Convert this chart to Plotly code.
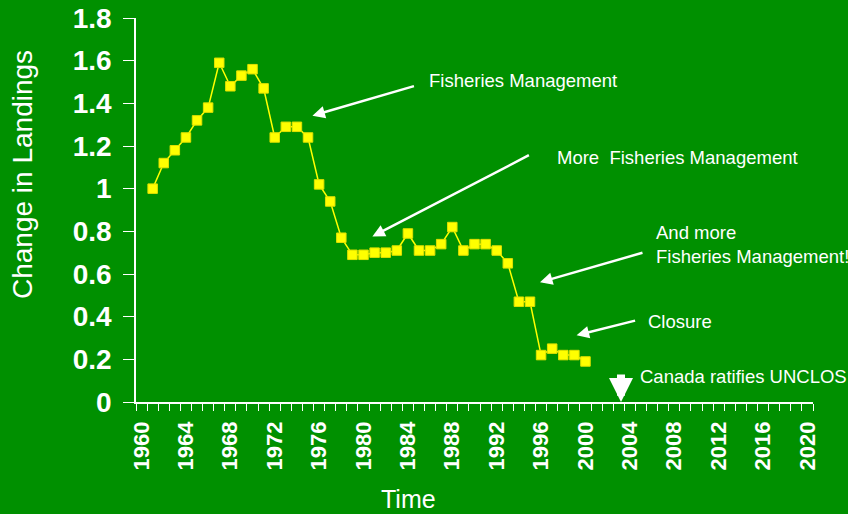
import plotly.graph_objects as go

years = list(range(1961, 2001))
landings = [
    1.00, 1.12, 1.18, 1.24, 1.32, 1.38, 1.59, 1.48, 1.53, 1.56,
    1.47, 1.24, 1.29, 1.29, 1.24, 1.02, 0.94, 0.77, 0.69, 0.69,
    0.70, 0.70, 0.71, 0.79, 0.71, 0.71, 0.74, 0.82, 0.71, 0.74,
    0.74, 0.71, 0.65, 0.47, 0.47, 0.22, 0.25, 0.22, 0.22, 0.19,
]
tick_years = list(range(1960, 2021, 4))

BG = "#009000"
FONT = "Arial, Liberation Sans, sans-serif"
W, H = 848, 514
L, R, T, B = 136, 35, 18, 112
pw, ph = W - L - R, H - T - B


def px_x(x):
    return (x - L) / pw


def px_y(y):
    return (H - B - y) / ph


fig = go.Figure()
fig.add_trace(go.Scatter(
    x=years, y=landings, mode="lines+markers",
    line=dict(color="#FFFF00", width=1.5),
    marker=dict(symbol="square", size=9.5, color="#FFFF00", line=dict(color="#E0E000", width=1)),
    showlegend=False,
))

# arrows: (head x, head y, tail dx, tail dy in px)
arrows = [
    (1975.4, 1.342, 103, -30),
    (1980.8, 0.776, 158, -82),
    (1995.9, 0.561, 104, -30),
    (1999.2, 0.313, 60, -15),
]
for hx, hy, dx, dy in arrows:
    fig.add_annotation(x=hx, y=hy, ax=dx, ay=dy, text="", showarrow=True,
                       arrowhead=2, arrowsize=1, arrowwidth=2.5, arrowcolor="white")

fig.add_annotation(x=2003.2, y=0, ax=0, ay=-29, text="", showarrow=True,
                   arrowhead=2, arrowsize=0.6, arrowwidth=8, arrowcolor="white")

labels = [
    (427, 80, "Fisheries Management"),
    (555, 157, "More  Fisheries Management"),
    (654, 244, "And more<br>Fisheries Management!"),
    (646, 321, "Closure"),
    (638, 376, "Canada ratifies UNCLOS"),
]
for px_, py_, txt in labels:
    fig.add_annotation(x=px_x(px_), y=px_y(py_), xref="paper", yref="paper",
                       text=txt, showarrow=False, xanchor="left", yanchor="middle",
                       align="left", font=dict(size=18.5, color="white", family=FONT))

# axis titles placed as in the original slide
fig.add_annotation(x=px_x(22), y=px_y(175), xref="paper", yref="paper", text="Change in Landings",
                   textangle=-90, showarrow=False, xanchor="center", yanchor="middle",
                   font=dict(size=28, color="white", family=FONT))
fig.add_annotation(x=px_x(408), y=px_y(499), xref="paper", yref="paper", text="Time",
                   showarrow=False, xanchor="center", yanchor="middle",
                   font=dict(size=25, color="white", family=FONT))

fig.update_layout(
    width=W, height=H,
    paper_bgcolor=BG, plot_bgcolor=BG,
    margin=dict(l=L, r=R, t=T, b=B),
    font=dict(family=FONT, color="white"),
    xaxis=dict(
        range=[1959.5, 2020.5], tickvals=tick_years, ticktext=[str(y) for y in tick_years],
        tickangle=-90, ticks="", showgrid=False, zeroline=False, ticklabelstandoff=9,
        showline=True, linecolor="white", linewidth=1.5, automargin=False,
        tickfont=dict(size=22, family=FONT, color="white", weight="bold"),
        minor=dict(tick0=1959.5, dtick=1, ticks="outside", ticklen=7, tickcolor="white", tickwidth=1.2, showgrid=False),
    ),
    yaxis=dict(
        range=[0, 1.8], dtick=0.2, ticks="outside", ticklen=11, tickcolor="white", tickwidth=1.2,
        showgrid=False, zeroline=False, showline=True, linecolor="white", linewidth=1.5,
        ticklabelstandoff=6, automargin=False,
        tickfont=dict(size=28, family=FONT, color="white", weight="bold"),
    ),
)

fig.write_html("out.html", config={"displayModeBar": False},
               post_script="document.body.style.margin='0';")
